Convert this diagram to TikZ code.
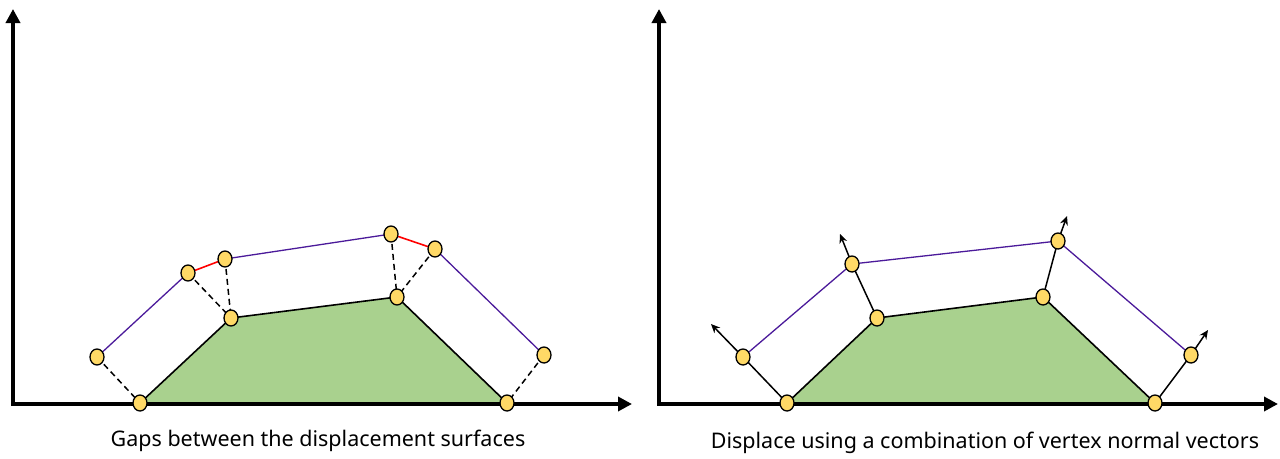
\documentclass[tikz,border=0pt]{standalone}
\usepackage{fontspec}
\setmainfont{Noto Sans}
\usetikzlibrary{arrows.meta,shapes.geometric}
\definecolor{dotyellow}{HTML}{FFD966}
\definecolor{meshgreen}{HTML}{A9D18E}
\definecolor{edgepurple}{HTML}{4B1A9A}
\definecolor{gapred}{HTML}{FF0000}
\begin{document}
\begin{tikzpicture}[x=1pt,y=-1pt,
  dot/.style={ellipse, draw=black, line width=1.3pt, fill=dotyellow, minimum width=14pt, minimum height=16pt, inner sep=0pt},
  axisline/.style={line width=3.6pt, -{Triangle[length=14pt,width=14pt]}},
  surf/.style={draw=black, line width=1.6pt, fill=meshgreen, line join=round},
  outeredge/.style={draw=edgepurple, line width=1.3pt},
  gapedge/.style={draw=gapred, line width=1.6pt},
  dashlink/.style={draw=black, line width=1.5pt, dash pattern=on 6pt off 4pt},
  normalline/.style={draw=black, line width=1.5pt},
  normalarrow/.style={draw=black, line width=1.5pt, -{Stealth[length=9pt,width=8pt]}},
  caption/.style={font=\fontsize{21.5}{26}\selectfont, inner sep=0pt}
]
\useasboundingbox (0,0) rectangle (1280,458);

% ---------------- left panel ----------------
\coordinate (lorg) at (13,404);
\coordinate (lytip) at (13,9);
\coordinate (lxtip) at (632,404);
\coordinate (lb1) at (140,403);
\coordinate (li1) at (231,318);
\coordinate (li2) at (397,297);
\coordinate (lb2) at (507,403);
\coordinate (lo1) at (97,357);
\coordinate (lo2) at (188,273);
\coordinate (lo3) at (225,259);
\coordinate (lo4) at (391,234);
\coordinate (lo5) at (435,249);
\coordinate (lo6) at (544,355);

\draw[surf] (lb1) -- (li1) -- (li2) -- (lb2) -- cycle;
\draw[axisline] ([yshift=-1.8pt]lorg) -- (lytip);
\draw[axisline] ([xshift=-1.8pt]lorg) -- (lxtip);

\draw[outeredge] (lo1) -- (lo2);
\draw[outeredge] (lo3) -- (lo4);
\draw[outeredge] (lo5) -- (lo6);
\draw[gapedge] (lo2) -- (lo3);
\draw[gapedge] (lo4) -- (lo5);
\draw[dashlink] (lo1) -- (lb1);
\draw[dashlink] (lo2) -- (li1);
\draw[dashlink] (lo3) -- (li1);
\draw[dashlink] (lo4) -- (li2);
\draw[dashlink] (lo5) -- (li2);
\draw[dashlink] (lo6) -- (lb2);

\foreach \p in {lb1,li1,li2,lb2,lo1,lo2,lo3,lo4,lo5,lo6}
  \node[dot] (\p d) at (\p) {};

\node[caption] (lcap) at (318,441) {Gaps between the displacement surfaces};

% ---------------- right panel ----------------
\coordinate (rorg) at (659,404);
\coordinate (rytip) at (659,9);
\coordinate (rxtip) at (1278,404);
\coordinate (rb1) at (787,403);
\coordinate (ri1) at (877,318);
\coordinate (ri2) at (1043,297);
\coordinate (rb2) at (1155,403);
\coordinate (ro1) at (743,357);
\coordinate (ro2) at (852,264);
\coordinate (ro3) at (1058,241);
\coordinate (ro4) at (1191,355);
\coordinate (rt1) at (711,324);
\coordinate (rt2) at (840,234);
\coordinate (rt3) at (1067,216);
\coordinate (rt4) at (1208,330);

\draw[surf] (rb1) -- (ri1) -- (ri2) -- (rb2) -- cycle;
\draw[axisline] ([yshift=-1.8pt]rorg) -- (rytip);
\draw[axisline] ([xshift=-1.8pt]rorg) -- (rxtip);

\draw[outeredge] (ro1) -- (ro2) -- (ro3) -- (ro4);
\draw[normalline] (rb1) -- (ro1);
\draw[normalline] (ri1) -- (ro2);
\draw[normalline] (ri2) -- (ro3);
\draw[normalline] (rb2) -- (ro4);
\draw[normalarrow] (ro1) -- (rt1);
\draw[normalarrow] (ro2) -- (rt2);
\draw[normalarrow] (ro3) -- (rt3);
\draw[normalarrow] (ro4) -- (rt4);

\foreach \p in {rb1,ri1,ri2,rb2,ro1,ro2,ro3,ro4}
  \node[dot] (\p d) at (\p) {};

\node[caption] (rcap) at (985,443) {Displace using a combination of vertex normal vectors};
\end{tikzpicture}
\end{document}
